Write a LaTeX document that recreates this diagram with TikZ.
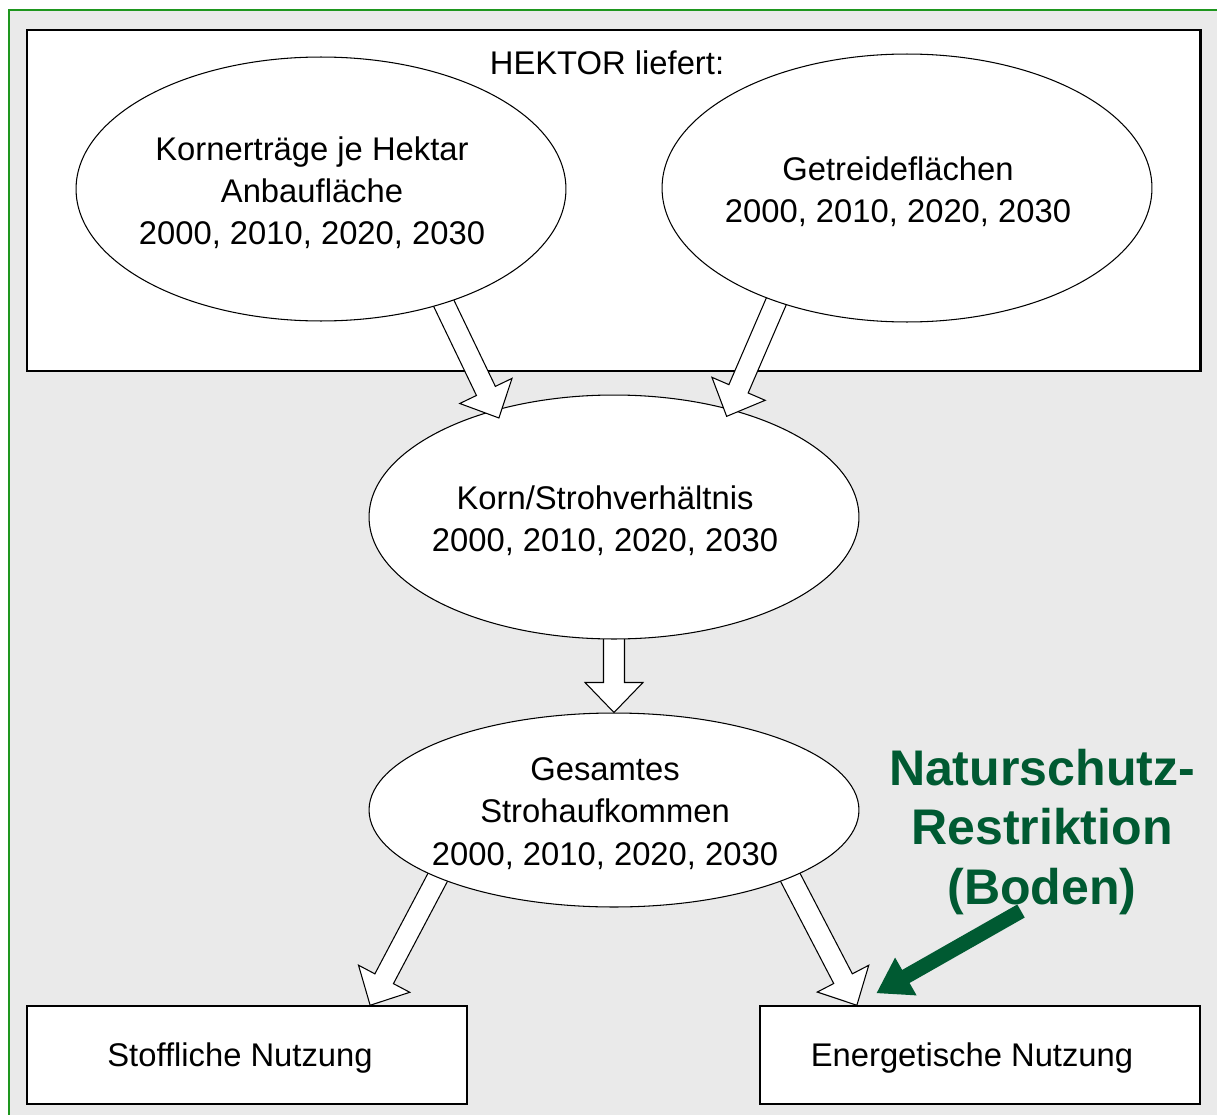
\documentclass[tikz,border=0pt]{standalone}
\usepackage{fontspec}
\setmainfont{Liberation Sans}
\usetikzlibrary{shapes,positioning,arrows.meta}
\usetikzlibrary{calc}

\pgfdeclarelayer{back}
\pgfdeclarelayer{low}
\pgfdeclarelayer{mid}
\pgfdeclarelayer{top}
\pgfsetlayers{back,low,mid,main,top}

\definecolor{rahmengruen}{RGB}{30,150,30}
\definecolor{naturgruen}{RGB}{0,90,50}
\definecolor{paneel}{RGB}{234,234,234}

% hollow block arrow: [overlap]{from}{to}
\newcommand{\blockarr}[3][0pt]{%
  \coordinate (ba-t) at ($(#3)!-#1!(#2)$);
  \coordinate (ba-s) at ($(#2)!-0.3cm!(ba-t)$);
  \coordinate (ba-n) at ($(ba-t)!\hlen!(ba-s)$);
  \draw[blockpfeil] ($(ba-s)!\shw!90:(ba-t)$) -- ($(ba-n)!\shw!-90:(ba-s)$)
    -- ($(ba-n)!\hhw!-90:(ba-s)$) -- (ba-t)
    -- ($(ba-n)!\hhw!90:(ba-s)$) -- ($(ba-n)!\shw!90:(ba-s)$)
    -- ($(ba-s)!\shw!-90:(ba-t)$) -- cycle;
}

\begin{document}
\begin{tikzpicture}[x=0.02cm, y=-0.02cm,
    ell/.style={ellipse, draw, fill=white, line width=0.6pt, inner sep=0pt,
        minimum width=9.8cm},
    txt/.style={align=center, font=\fontsize{18.65}{24}\selectfont,
        xshift=-0.18cm, yshift=-0.07cm},
    nutz/.style={rectangle, draw, fill=white, line width=0.85pt,
        minimum width=8.8cm, minimum height=1.96cm},
    blockpfeil/.style={draw=black, fill=white, line width=0.6pt, line join=miter},
    natur/.style={align=center, text=naturgruen,
        font=\fontsize{28.5}{34}\selectfont\bfseries},
    gruenpfeil/.style={draw=naturgruen, line width=0.3cm,
        -{Triangle[length=0.68cm, width=0.82cm]}}]
\def\shw{0.21cm}
\def\hhw{0.58cm}
\def\hlen{0.6cm}

\useasboundingbox (0,0) rectangle (1217,1115);

\begin{pgfonlayer}{back}
\draw[rahmengruen, line width=0.9pt, fill=paneel] (9,10) rectangle (1250,1150);
\draw[line width=1.7pt, fill=white] (27,30) rectangle (1200,371);
\end{pgfonlayer}

\node[txt, xshift=0.18cm, yshift=0.07cm] (titel) at (607,63) {HEKTOR liefert:};

\begin{pgfonlayer}{top}
\node[ell, minimum height=5.28cm,
    label={[txt]center:{Kornerträge je Hektar\\Anbaufläche\\2000, 2010, 2020, 2030}}]
    (korn) at (321,189) {};
\node[ell, minimum height=5.36cm,
    label={[txt]center:{Getreideflächen\\2000, 2010, 2020, 2030}}]
    (flaeche) at (907,188) {};
\end{pgfonlayer}

\begin{pgfonlayer}{mid}
\node[ell, minimum height=4.88cm,
    label={[txt]center:{Korn/Strohverhältnis\\2000, 2010, 2020, 2030}}]
    (verh) at (614,517) {};
\node[ell, minimum height=3.88cm,
    label={[txt]center:{Gesamtes\\Strohaufkommen\\2000, 2010, 2020, 2030}}]
    (stroh) at (614,810) {};
\node[nutz, label={[txt, xshift=0.04cm]center:{Stoffliche Nutzung}}]
    (stoff) at (247,1055) {};
\node[nutz, label={[txt, xshift=0.02cm]center:{Energetische Nutzung}}]
    (energ) at (980,1055) {};
\end{pgfonlayer}

% arrows between the ellipses
\blockarr[0.18cm]{korn.-43}{verh.138}
\blockarr[0.16cm]{flaeche.-139}{verh.43}

\begin{pgfonlayer}{low}
\blockarr{verh.south}{stroh.north}
\blockarr{stroh.-159}{stoff.22}
\blockarr{stroh.-21}{energ.158}
\end{pgfonlayer}

\node[natur] (natur) at (1042,832) {Naturschutz-\\Restriktion\\(Boden)};

\coordinate (gstart) at (1021,911);
\coordinate (gziel) at ($(energ.north west)+(117,-12)$);
\draw[gruenpfeil] (gstart) -- (gziel);

\end{tikzpicture}
\end{document}
